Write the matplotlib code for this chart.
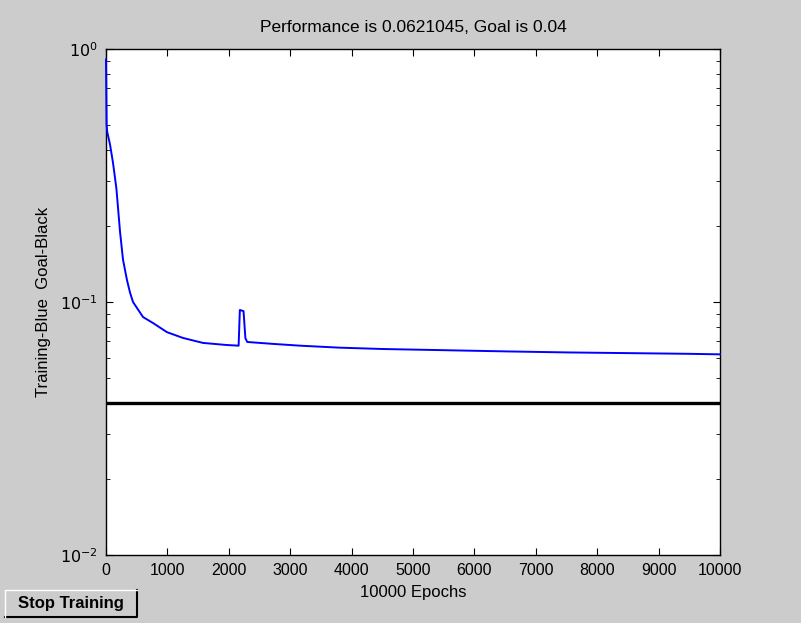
import numpy as np
import matplotlib
matplotlib.use("Agg")
from matplotlib import pyplot as plt
from matplotlib.patches import Rectangle
from matplotlib.lines import Line2D

plt.rcParams['font.family'] = ['Liberation Sans', 'DejaVu Sans']

#training curve
epochs = [0, 10, 20, 65, 114, 170, 228, 277, 342, 391, 440, 603, 765, 993,
          1254, 1580, 1970, 2160, 2180, 2240, 2270, 2300, 2720, 3160, 3800,
          4500, 5500, 6500, 7500, 8500, 9500, 10000]
perf = [0.91, 0.50, 0.47, 0.42, 0.355, 0.28, 0.19, 0.147, 0.122, 0.109, 0.100,
        0.0872, 0.0826, 0.076, 0.0721, 0.0689, 0.0676, 0.0672, 0.093, 0.092,
        0.072, 0.0695, 0.0683, 0.0672, 0.066, 0.0652, 0.0645, 0.0638, 0.0632,
        0.0628, 0.0624, 0.0621]
goal = 0.04
x_ticks = [0, 1000, 2000, 3000, 4000, 5000, 6000, 7000, 8000, 9000, 10000]
y_ticks = [0.01, 0.1, 1]
y_labels = ['$10^{-2}$', '$10^{-1}$', '$10^{0}$']

fig = plt.figure(figsize=(8.01, 6.23), dpi=100)
fig.patch.set_facecolor('#cccccc')

ax = fig.add_axes([106/801, 1-555/623, (720-106)/801, (555-49)/623])
ax.set_facecolor('white')
ax.semilogy(epochs, perf, color='#0000ff', lw=1.4, clip_on=False, zorder=3)
ax.axhline(goal, color='black', lw=2.4)

ax.set_xlim(0, 10000)
ax.set_ylim(0.01, 1)
ax.set_xticks(x_ticks)
ax.set_xticklabels([str(t) for t in x_ticks])
ax.set_yticks(y_ticks)
ax.set_yticklabels(y_labels)
ax.tick_params(which='both', direction='in', top=True, right=True,
               labelsize=11.5, pad=6)
ax.tick_params(which='major', length=5)
ax.tick_params(which='minor', length=3)
for s in ax.spines.values():
    s.set_linewidth(1.0)

ax.set_title('Performance is 0.0621045, Goal is 0.04', fontsize=12.5, pad=12)
ax.set_xlabel('10000 Epochs', fontsize=12, labelpad=5)
ax.set_ylabel('Training-Blue  Goal-Black', fontsize=12, labelpad=6)

#boton
bx, by, bw, bh = 5/801, 1-617/623, 132/801, 27/623
fig.patches.append(Rectangle((bx, by), bw, bh, transform=fig.transFigure,
                             facecolor='#cccccc', edgecolor='none'))
fig.lines.append(Line2D([bx, bx+bw, bx+bw], [by, by, by+bh],
                        transform=fig.transFigure, color='black', lw=1.5))
fig.lines.append(Line2D([bx, bx, bx+bw], [by, by+bh, by+bh],
                        transform=fig.transFigure, color='white', lw=1.0))
fig.text(bx+bw/2, by+bh/2, 'Stop Training', ha='center', va='center',
         fontsize=12, fontweight='bold')

fig.savefig('out.png', dpi=100, facecolor=fig.get_facecolor())
